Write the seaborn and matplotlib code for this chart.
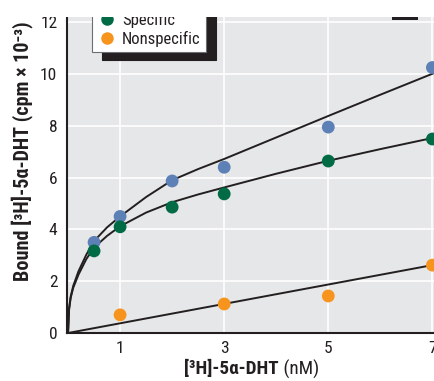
import matplotlib
matplotlib.use("Agg")
import matplotlib.pyplot as plt
import seaborn as sns
import pandas as pd
from matplotlib.lines import Line2D
from matplotlib.patches import Rectangle
from matplotlib import font_manager

# ---- data ----
conc = [0.5, 1, 2, 3, 5, 7]
total = [3.5, 4.5, 5.87, 6.4, 7.95, 10.25]
specific = [3.17, 4.1, 4.86, 5.37, 6.64, 7.49]
ns_conc = [1, 3, 5, 7]
nonspecific = [0.7, 1.12, 1.43, 2.62]

# fitted curves
curve_x = [0, 0.02, 0.05, 0.1, 0.2, 0.35, 0.5, 0.75, 1, 1.5, 2, 2.5, 3, 4, 5, 6, 7.05]
curve_specific = [0, 0.9, 1.35, 1.75, 2.25, 2.85, 3.3, 3.75, 4.12, 4.65, 5.05, 5.35, 5.62, 6.15, 6.65, 7.1, 7.55]
curve_total = [0, 0.95, 1.4, 1.82, 2.38, 3.02, 3.55, 4.08, 4.5, 5.25, 5.9, 6.33, 6.72, 7.55, 8.38, 9.2, 10.05]
line_x = [0, 7.05]
line_nonspecific = [0, 2.64]

x_ticks = [1, 3, 5, 7]
y_ticks = [0, 2, 4, 6, 8, 10, 12]

C_TOTAL = "#5d80b6"
C_SPEC = "#006b45"
C_NS = "#f7941e"
C_LINE = "#231f20"

sns.set_style("darkgrid", {"axes.facecolor": "#e6e7e8", "grid.color": "white"})
installed = {f.name for f in font_manager.fontManager.ttflist}
prefs = ["Roboto Condensed", "Liberation Sans Narrow", "Arial Narrow", "Open Sans Condensed",
         "Noto Sans Condensed", "Liberation Sans"]
first = [p for p in prefs if p in installed][:1]
FAM = first + ["DejaVu Sans"]
plt.rcParams["font.family"] = FAM

W, H = 435, 381
fig = plt.figure(figsize=(W / 100, H / 100), dpi=100)
ax_l, ax_r, ax_b, ax_t = 67, 435, 333, 17
ax = fig.add_axes([ax_l / W, (H - ax_b) / H, (ax_r - ax_l) / W, (ax_b - ax_t) / H])

df_curves = pd.DataFrame({
    "x": curve_x * 2,
    "y": curve_specific + curve_total,
    "s": ["spec"] * len(curve_x) + ["tot"] * len(curve_x),
})
sns.lineplot(data=df_curves, x="x", y="y", units="s", estimator=None,
             color=C_LINE, lw=1.4, ax=ax, zorder=2)
sns.lineplot(x=line_x, y=line_nonspecific, color=C_LINE, lw=1.4, ax=ax, zorder=2)

sns.scatterplot(x=conc, y=total, color=C_TOTAL, s=85, edgecolor="none", ax=ax, zorder=3, clip_on=False)
sns.scatterplot(x=conc, y=specific, color=C_SPEC, s=85, edgecolor="none", ax=ax, zorder=3, clip_on=False)
sns.scatterplot(x=ns_conc, y=nonspecific, color=C_NS, s=85, edgecolor="none", ax=ax, zorder=3, clip_on=False)

ax.set_xlim(-0.02, 7.05)
ax.set_ylim(0, (ax_b - ax_t) / 25.9)
ax.set_xticks(x_ticks)
ax.set_yticks(y_ticks)
ax.tick_params(axis="both", length=0, labelsize=12.5, colors="#231f20")
ax.tick_params(axis="x", pad=6)
ax.tick_params(axis="y", pad=7)
ax.grid(True, color="white", lw=1.2)
for s in ["top", "right"]:
    ax.spines[s].set_visible(False)
for s in ["left", "bottom"]:
    ax.spines[s].set_visible(True)
    ax.spines[s].set_color("#231f20")
    ax.spines[s].set_linewidth(1.5)

ax.set_xlabel("")
ax.set_ylabel("")
fig.text(22 / W, 1 - 151 / H, "Bound [³H]-5α-DHT (cpm × 10⁻³)", rotation=90,
         ha="center", va="center", fontsize=14.5, fontweight="bold", color="#231f20")

t1 = fig.text(279 / W, 1 - 369 / H, "[³H]-5α-DHT", ha="right", va="center",
              fontsize=13.8, fontweight="bold", color="#231f20")
ax.annotate(" (nM)", xy=(1, 0.5), xycoords=t1, ha="left", va="center",
            fontsize=13.8, color="#231f20", annotation_clip=False)

handles = [
    Line2D([], [], ls="none", marker="o", ms=9, mfc=C_TOTAL, mec="none", label="Total"),
    Line2D([], [], ls="none", marker="o", ms=9, mfc=C_SPEC, mec="none", label="Specific"),
    Line2D([], [], ls="none", marker="o", ms=9, mfc=C_NS, mec="none", label="Nonspecific"),
]
leg = ax.legend(handles=handles, loc="lower left",
                bbox_to_anchor=((92 - ax_l) / (ax_r - ax_l), (ax_b - 52) / (ax_b - ax_t)),
                frameon=True, fancybox=False, fontsize=12, handletextpad=0.3,
                borderpad=0.3, labelspacing=0.2, handlelength=1.2, borderaxespad=0,
                shadow={"color": "#231f20", "alpha": 1, "ox": 7.2, "oy": -5.8})
leg.get_frame().set_edgecolor("#6d6e71")
leg.get_frame().set_linewidth(0.8)
leg.get_frame().set_facecolor("white")
for t in leg.get_texts():
    t.set_color("#231f20")
leg.set_zorder(5)

# cropped top margin of the original
fig.patches.append(Rectangle((0, (H - ax_t) / H), 1, ax_t / H, transform=fig.transFigure,
                             facecolor="white", edgecolor="none", zorder=10))
fig.patches.append(Rectangle((392 / W, (H - 19.5) / H), 26 / W, 2.5 / H, transform=fig.transFigure,
                             facecolor="#231f20", edgecolor="none", zorder=11))

fig.savefig("out.png", dpi=100)
